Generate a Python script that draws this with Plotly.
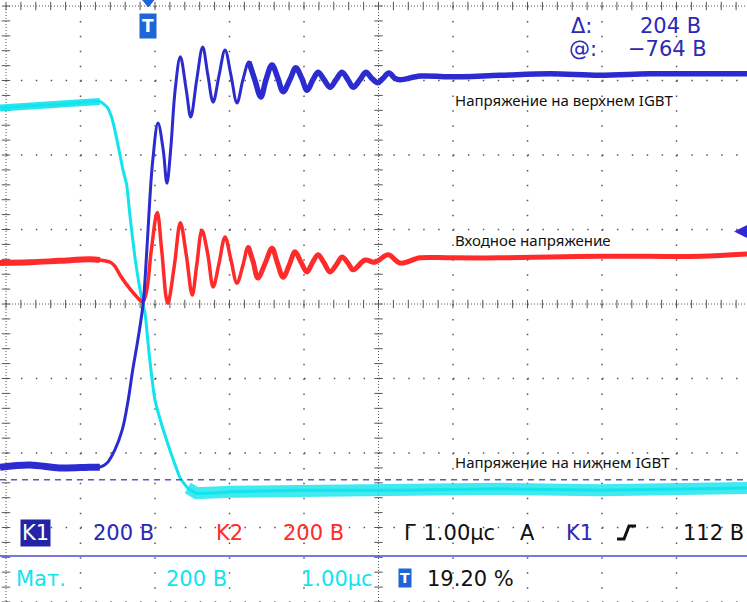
import numpy as np
import plotly.graph_objects as go

# ---------------- data (time in µs, 1 µs/div; amplitude in screen divisions, centre line = 0)
k1_t = [-0.08, 0.32, 0.72, 1.13, 1.26, 1.36, 1.46, 1.56, 1.64, 1.70, 1.77, 1.84, 1.89, 1.93, 1.97,
        2.04, 2.11, 2.16, 2.21, 2.27, 2.34, 2.42, 2.48, 2.56, 2.64, 2.71, 2.78, 2.86, 2.94, 3.02,
        3.10, 3.18, 3.26, 3.34, 3.42, 3.49, 3.57, 3.65, 3.72, 3.81, 3.89, 3.97, 4.04, 4.12, 4.19,
        4.27, 4.35, 4.43, 4.51, 4.59, 4.66, 4.75, 4.83, 4.91, 4.99, 5.06, 5.14, 5.22, 5.29, 5.56,
        5.96, 6.63, 7.30, 7.97, 8.64, 9.32, 9.95]
k1_v = [-2.19, -2.16, -2.20, -2.19, -2.19, -2.13, -1.96, -1.69, -1.29, -0.89, -0.48, 0.00, 0.72, 1.40, 1.93,
        2.43, 2.07, 1.62, 2.07, 2.87, 3.32, 2.87, 2.51, 3.01, 3.45, 3.07, 2.71, 3.07, 3.41, 3.07,
        2.70, 3.01, 3.25, 3.01, 2.78, 3.01, 3.21, 3.03, 2.85, 3.01, 3.17, 3.03, 2.87, 3.01, 3.11,
        3.01, 2.91, 3.01, 3.11, 3.01, 2.91, 3.01, 3.11, 3.03, 2.97, 3.03, 3.10, 3.03, 3.01, 3.06,
        3.05, 3.07, 3.09, 3.07, 3.09, 3.09, 3.09]

k2_t = [-0.08, 0.32, 0.72, 1.13, 1.26, 1.40, 1.46, 1.53, 1.62, 1.70, 1.80, 1.84, 1.89, 1.95, 2.03,
        2.09, 2.17, 2.26, 2.34, 2.42, 2.50, 2.56, 2.63, 2.71, 2.78, 2.86, 2.94, 3.02, 3.10, 3.18,
        3.25, 3.32, 3.38, 3.48, 3.57, 3.64, 3.72, 3.80, 3.88, 3.96, 4.04, 4.11, 4.19, 4.27, 4.35,
        4.43, 4.51, 4.59, 4.66, 4.82, 4.95, 5.13, 5.29, 5.56, 5.96, 6.63, 7.30, 7.97, 8.64, 9.32, 9.95]
k2_v = [0.55, 0.56, 0.58, 0.60, 0.59, 0.56, 0.51, 0.39, 0.26, 0.16, 0.05, 0.03, 0.19, 0.72, 1.23,
        0.72, 0.01, 0.52, 1.09, 0.66, 0.12, 0.52, 0.99, 0.66, 0.23, 0.55, 0.90, 0.59, 0.28, 0.52,
        0.77, 0.56, 0.35, 0.55, 0.75, 0.56, 0.36, 0.52, 0.70, 0.56, 0.43, 0.55, 0.66, 0.55, 0.43,
        0.52, 0.63, 0.55, 0.46, 0.59, 0.56, 0.66, 0.55, 0.62, 0.62, 0.62, 0.63, 0.64, 0.64, 0.64, 0.67]

mat_t = [-0.08, 0.32, 0.72, 1.13, 1.26, 1.36, 1.42, 1.46, 1.53, 1.57, 1.62, 1.66, 1.73, 1.80, 1.87,
         1.89, 1.93, 2.00, 2.09, 2.20, 2.27, 2.34, 2.44, 2.56, 3.01, 3.95, 5.29, 6.63, 7.97, 9.32, 9.95]
mat_v = [2.63, 2.66, 2.68, 2.72, 2.72, 2.64, 2.50, 2.34, 2.00, 1.80, 1.60, 1.22, 0.63, 0.19, -0.15,
         -0.35, -0.75, -1.29, -1.62, -1.96, -2.16, -2.34, -2.47, -2.54, -2.52, -2.50, -2.50, -2.48, -2.50, -2.48, -2.47]

cursor_level = -2.36      # dashed cursor line (div)
trigger_time = 1.91       # trigger position (µs)
k2_marker_level = 0.99    # right-hand level arrow (div)

# ---------------- styling
W, H = 747, 602
C_K1 = "#2b2bd0"
C_K2 = "#ff2b2b"
C_MAT = "#12e4ee"
C_TXT_BLUE = "#2a2ab4"
C_TRIG = "#1d66d8"
C_GRID = "#555555"
FONT = "DejaVu Sans"
LBL_FONT = "Noto Sans"

XR = [-0.0805, 9.946]
YR = [-4.0, 4.081]

def px(x):
    return x / W

def py(y):
    return 1 - y / H

fig = go.Figure()

# ---------------- graticule
shapes = []
for k in range(0, 10):
    dense = k in (0, 5)
    shapes.append(dict(type="line", xref="x", yref="y", x0=k, x1=k, y0=4, y1=-4.0,
                       line=dict(color=C_GRID, width=1 if dense else 1.5,
                                 dash="1px,2px" if dense else "1.5px,13.4px"), layer="below"))
for k in range(-4, 5):
    dense = k in (0, 4)
    shapes.append(dict(type="line", xref="x", yref="y", x0=0, x1=XR[1], y0=k, y1=k,
                       line=dict(color=C_GRID, width=1 if dense else 1.5,
                                 dash="1px,2px" if dense else "1.5px,13.4px"), layer="below"))

tick_x = np.arange(0, 10, 0.2)
tick_y = np.arange(-4, 4.01, 0.2)
for yy in (0, 4):
    fig.add_trace(go.Scatter(x=tick_x, y=[yy] * len(tick_x), mode="markers", hoverinfo="skip",
                             marker=dict(symbol="line-ns", size=6, line=dict(color=C_GRID, width=1))))
for xx in (0, 5):
    fig.add_trace(go.Scatter(x=[xx] * len(tick_y), y=tick_y, mode="markers", hoverinfo="skip",
                             marker=dict(symbol="line-ew", size=6, line=dict(color=C_GRID, width=1))))

# cursor line
shapes.append(dict(type="line", xref="x", yref="y", x0=XR[0], x1=XR[1], y0=cursor_level, y1=cursor_level,
                   line=dict(color="#5a5ab8", width=1.5, dash="6px,5px")))

# trigger pointer (small triangle at the top edge)
shapes.append(dict(type="path", xref="x", yref="paper",
                   path=f"M {trigger_time - 0.075} {py(0)} L {trigger_time + 0.075} {py(0)} L {trigger_time} {py(7)} Z",
                   fillcolor=C_TRIG, line=dict(color=C_TRIG, width=1)))

# status bar separator
shapes.append(dict(type="line", xref="paper", yref="paper", x0=0, x1=1, y0=py(556), y1=py(556),
                   line=dict(color="#4a4ad0", width=1.5)))
# rising-edge trigger symbol
shapes.append(dict(type="path", xref="paper", yref="paper",
                   path=f"M {px(617)} {py(539)} L {px(624)} {py(539)} L {px(629)} {py(526)} L {px(636)} {py(526)}",
                   line=dict(color="#111111", width=3)))

# ---------------- waveforms
def seg(t, v, lo, hi):
    return [a for a in t if lo <= a <= hi], [b for a, b in zip(t, v) if lo <= a <= hi]

SM = 1.0

# math channel (cyan)
fig.add_trace(go.Scatter(x=mat_t, y=mat_v, mode="lines", line=dict(color=C_MAT, width=3, shape="spline", smoothing=0.5), hoverinfo="skip"))
for lo, hi, w, op in ((-1, 1.26, 7, 0.9), (2.44, 10, 12, 0.8)):
    xs, ys = seg(mat_t, mat_v, lo, hi)
    fig.add_trace(go.Scatter(x=xs, y=ys, mode="lines", opacity=op, line=dict(color=C_MAT, width=w), hoverinfo="skip"))

# K2 (red)
fig.add_trace(go.Scatter(x=k2_t, y=k2_v, mode="lines", line=dict(color=C_K2, width=3.5, shape="spline", smoothing=SM), hoverinfo="skip"))
for lo, hi, w in ((-1, 1.26, 6), (3.25, 10, 5)):
    xs, ys = seg(k2_t, k2_v, lo, hi)
    fig.add_trace(go.Scatter(x=xs, y=ys, mode="lines", line=dict(color=C_K2, width=w, shape="spline", smoothing=SM), hoverinfo="skip"))

# K1 (blue)
fig.add_trace(go.Scatter(x=k1_t, y=k1_v, mode="lines", line=dict(color=C_K1, width=3, shape="spline", smoothing=SM), hoverinfo="skip"))
for lo, hi, w in ((-1, 1.26, 7), (3.26, 10, 5.5)):
    xs, ys = seg(k1_t, k1_v, lo, hi)
    fig.add_trace(go.Scatter(x=xs, y=ys, mode="lines", line=dict(color=C_K1, width=w, shape="spline", smoothing=SM), hoverinfo="skip"))

# ---------------- texts
ann = []

def t(text, x, y, color="#111111", size=21, family=FONT, xanchor="left", xref="paper", yref="paper", **kw):
    ann.append(dict(text=text, x=x, y=y, xref=xref, yref=yref, xanchor=xanchor, yanchor="middle",
                    showarrow=False, font=dict(family=family, size=size, color=color), **kw))

# measurement readout
t("Δ:", px(569), py(26), C_TXT_BLUE)
t("204 В", px(703), py(26), C_TXT_BLUE, xanchor="right")
t("@:", px(567), py(49), C_TXT_BLUE)
t("−764 В", px(709), py(49), C_TXT_BLUE, xanchor="right")

# trace labels
t("Напряжение на верхнем IGBT", 6.0, 2.74, "#111111", 15, LBL_FONT, xref="x", yref="y")
t("Входное напряжение", 6.0, 0.86, "#111111", 15, LBL_FONT, xref="x", yref="y")
t("Напряжение на нижнем IGBT", 6.0, -2.12, "#111111", 15, LBL_FONT, xref="x", yref="y")

# trigger marker
t("<b>T</b>", trigger_time, py(26), "#ffffff", 17, xanchor="center", xref="x", bgcolor=C_TRIG, borderpad=2)
# right-hand level arrow
t("◀", 9.86, k2_marker_level, C_K1, 17, xanchor="center", xref="x", yref="y")

# status bar row 1
t("K1", px(20), py(533), "#ffffff", 21, bgcolor="#2323a8", borderpad=1)
t("200 В", px(91), py(533), C_TXT_BLUE)
t("K2", px(214), py(533), C_K2)
t("200 В", px(281), py(533), C_K2)
t("Г 1.00µс", px(402), py(533), "#111111")
t("A", px(518), py(533), "#111111")
t("K1", px(564), py(533), C_TXT_BLUE)
t("112 В", px(681), py(533), "#111111")

# status bar row 2
t("Мат.", px(14), py(579), C_MAT)
t("200 В", px(164), py(579), C_MAT)
t("1.00µс", px(299), py(579), C_MAT)
t("<b>T</b>", px(398), py(578), "#ffffff", 14, bgcolor=C_TRIG, borderpad=1)
t("19.20 %", px(425), py(579), "#111111")

fig.update_layout(
    width=W, height=H, margin=dict(l=0, r=0, t=0, b=0),
    paper_bgcolor="white", plot_bgcolor="white", showlegend=False,
    xaxis=dict(range=XR, visible=False, fixedrange=True),
    yaxis=dict(range=YR, visible=False, fixedrange=True),
    shapes=shapes, annotations=ann,
)

fig.write_html("out.html")
